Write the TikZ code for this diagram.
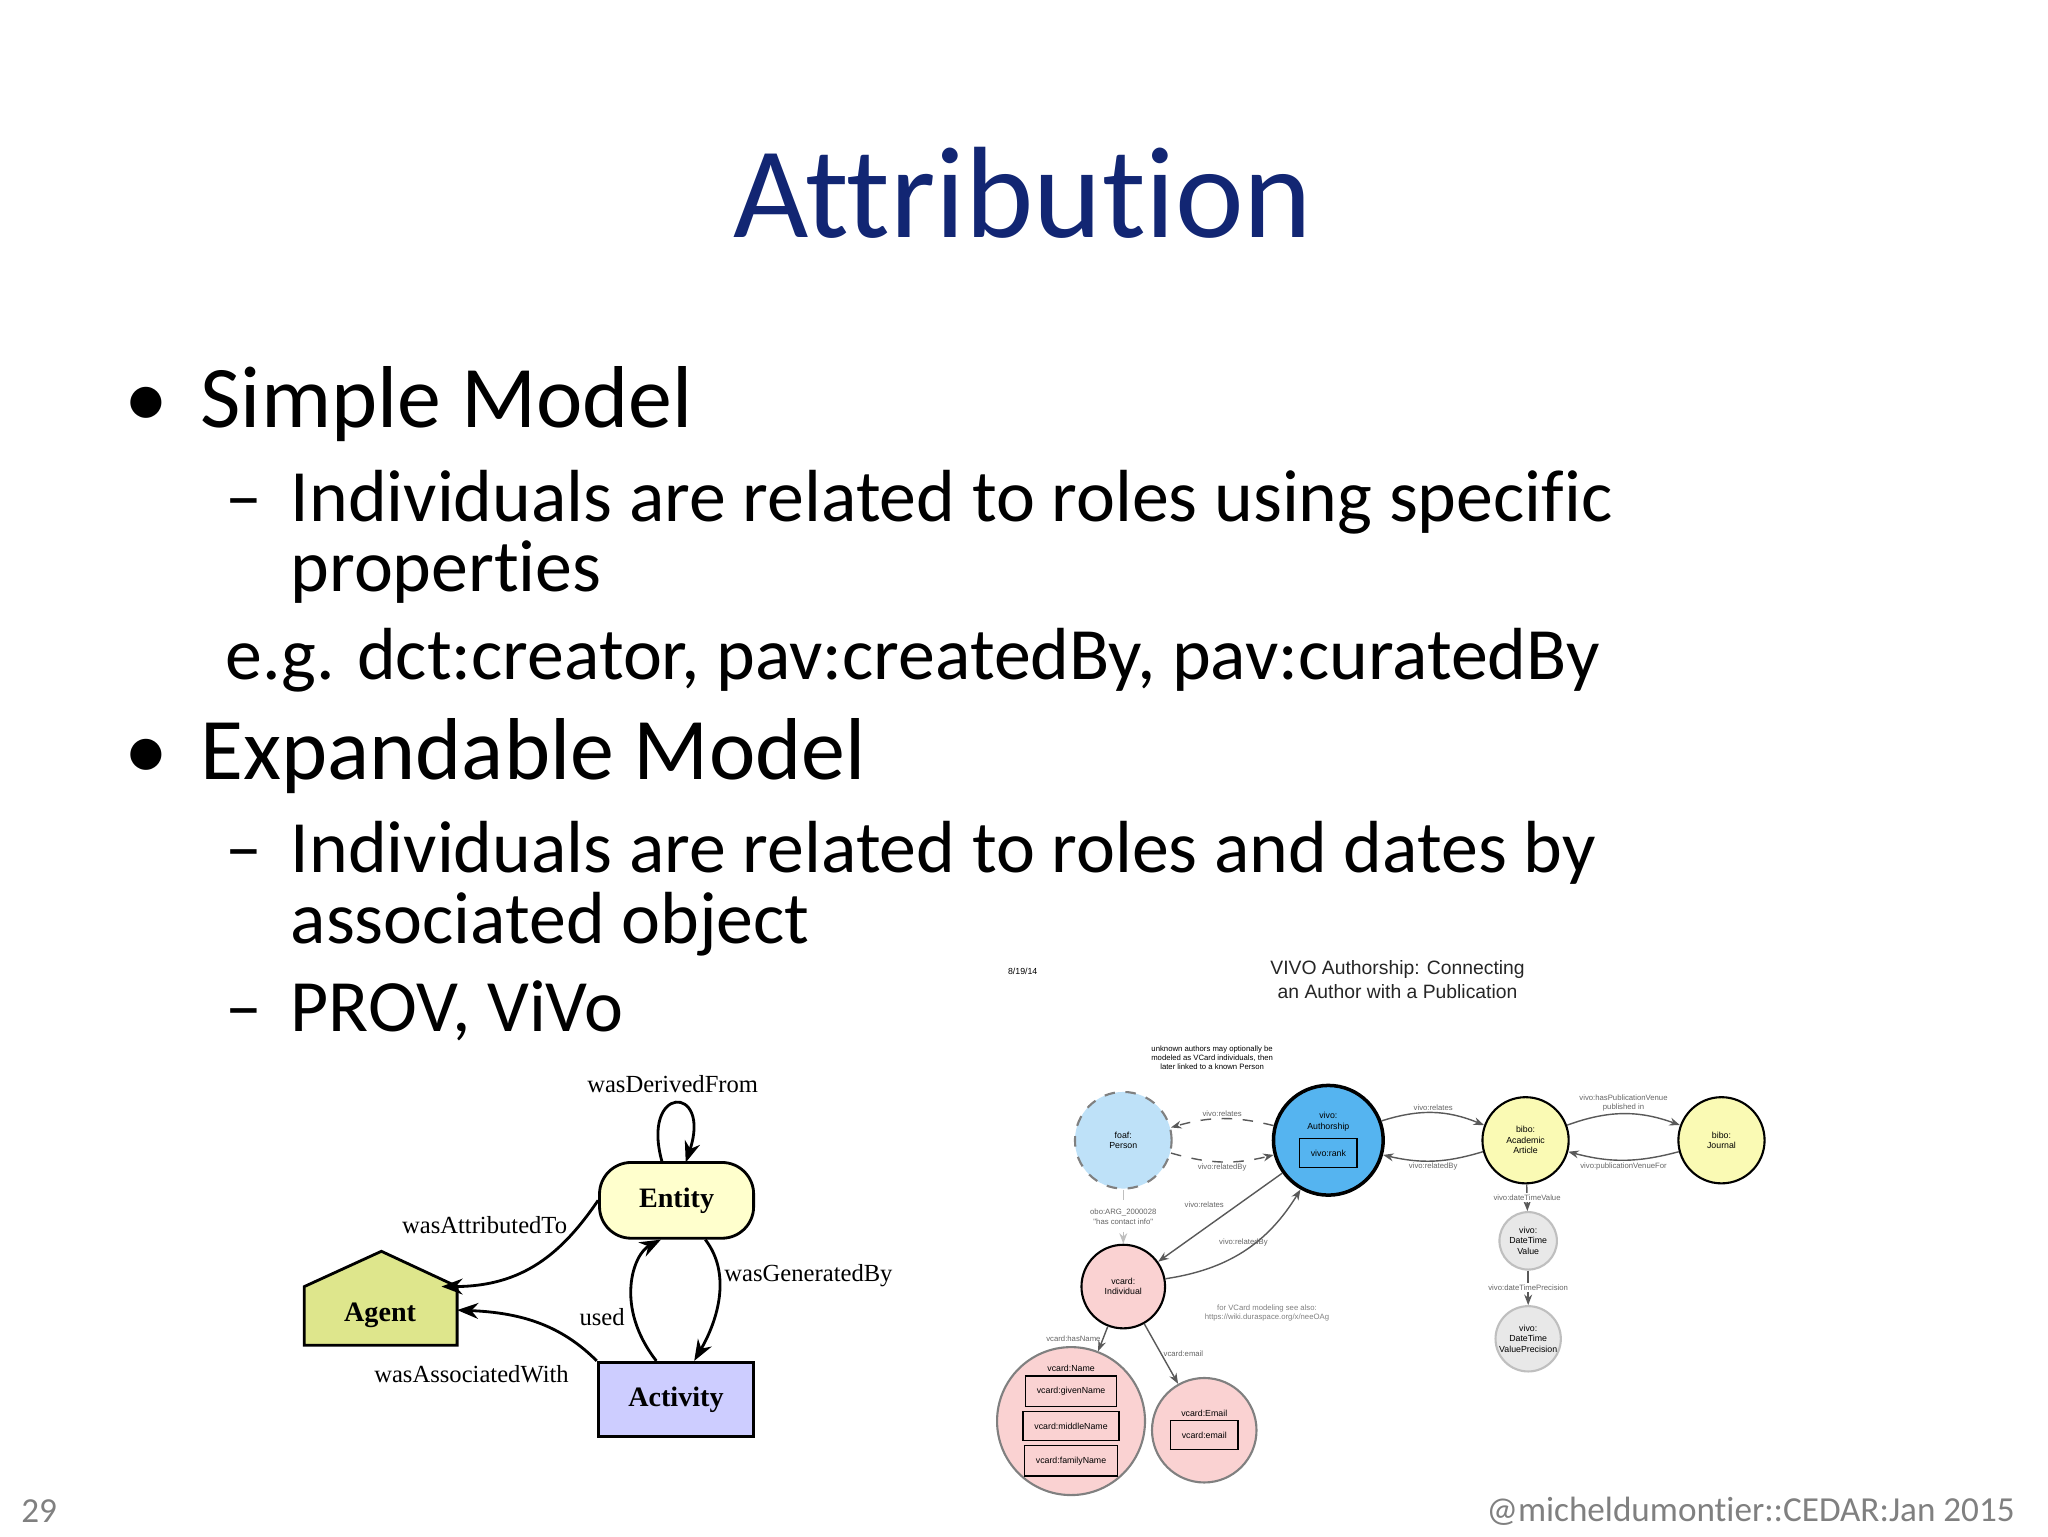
\documentclass[tikz,border=0pt]{standalone}
\usepackage{fontspec}
\setmainfont[Ligatures=NoCommon]{Carlito}
\newfontfamily\serifd{Liberation Serif}
\newfontfamily\sansd{Liberation Sans}
\usetikzlibrary{arrows.meta,shapes.geometric}
\definecolor{navy}{RGB}{18,38,115}
\definecolor{entcol}{RGB}{255,255,205}
\definecolor{agcol}{RGB}{222,230,140}
\definecolor{accol}{RGB}{205,205,255}
\definecolor{pblue}{RGB}{190,225,248}
\definecolor{ablue}{RGB}{85,180,240}
\definecolor{pyel}{RGB}{250,250,180}
\definecolor{ppink}{RGB}{250,210,210}
\definecolor{pgray}{RGB}{232,232,232}
\tikzset{
  bodytxt/.style={anchor=base west,inner sep=0,font=\fontsize{21}{24}\selectfont},
  bigtxt/.style={anchor=base west,inner sep=0,font=\fontsize{25}{28}\selectfont},
  lbl/.style={font=\serifd\fontsize{7}{8}\selectfont,inner sep=1pt},
  prov/.style={draw,line width=0.8pt,font=\serifd\bfseries\fontsize{8}{9}\selectfont},
  parr/.style={-{Stealth[length=6pt]},line width=0.8pt},
  vc/.style={circle,draw,line width=0.6pt,font=\sansd\fontsize{2.5}{3}\selectfont,align=center,inner sep=0},
  va/.style={-{Stealth[length=3pt]},line width=0.4pt,gray!70!black},
  vl/.style={font=\sansd\fontsize{2.2}{2.6}\selectfont,inner sep=0.5pt,text=gray!80!black,align=center}
}
\begin{document}
\begin{tikzpicture}[x=0.1306mm,y=-0.1306mm]
\useasboundingbox[fill=white] (0,0) rectangle (1568,1176);
% title
\node[font=\fontsize{37}{42}\selectfont,text=navy] (title) at (783,148) {Attribution};
% bullets
\node[bigtxt] (b1d) at (95,327) {•};
\node[bigtxt] (b1) at (153,327) {Simple Model};
\node[bodytxt] (d1) at (172,399) {–};
\node[bodytxt] (s1) at (222,399) {Individuals are related to roles using specific};
\node[bodytxt] (s1b) at (222,453) {properties};
\node[bodytxt] (s2) at (172,520) {e.g. dct:creator, pav:createdBy, pav:curatedBy};
\node[bigtxt] (b2d) at (95,597) {•};
\node[bigtxt] (b2) at (153,597) {Expandable Model};
\node[bodytxt] (d2) at (172,668) {–};
\node[bodytxt] (s3) at (222,668) {Individuals are related to roles and dates by};
\node[bodytxt] (s3b) at (222,722) {associated object};
\node[bodytxt] (d3) at (172,790) {–};
\node[bodytxt] (s4) at (222,790) {PROV, ViVo};
% PROV diagram
\node[prov,fill=entcol,rounded corners=9pt,minimum width=118*0.1306mm,minimum height=58*0.1306mm] (ent) at (518,919) {Entity};
\node[prov,fill=accol,minimum width=119*0.1306mm,minimum height=57*0.1306mm] (act) at (517.5,1071.5) {Activity};
\draw[prov,fill=agcol,line join=miter] (233,985) -- (292,958) -- (350,985) -- (350,1030) -- (233,1030) -- cycle;
\node[font=\serifd\bfseries\fontsize{8}{9}\selectfont] (ag) at (291,1007) {Agent};
\coordinate (agr) at (350,1003);
\coordinate (agt) at (338,985);
\coordinate (lpa) at (507,890);
\coordinate (lpb) at (525,890);
\draw[parr] (lpa) .. controls (490,830) and (545,830) .. (lpb);
\node[lbl] (ldf) at (515,830) {wasDerivedFrom};
\draw[parr] (ent.west) .. controls (430,960) and (400,985) .. (agt);
\node[lbl] (lat) at (371,938) {wasAttributedTo};
\draw[parr] (act.north west) .. controls (430,1015) and (400,1005) .. (agr);
\node[lbl] (law) at (361,1052) {wasAssociatedWith};
\draw[parr] ([xshift=-15*0.1306mm]act.north) .. controls (470,1000) and (485,960) .. ([xshift=-12*0.1306mm]ent.south);
\node[lbl] (lu) at (461,1008) {used};
\draw[parr] ([xshift=22*0.1306mm]ent.south) .. controls (560,975) and (550,1010) .. ([xshift=14*0.1306mm]act.north);
\node[lbl] (lg) at (619,977) {wasGeneratedBy};
% VIVO diagram
\node[font=\sansd\fontsize{2.5}{3}\selectfont] (date) at (783,744) {8/19/14};
\node[font=\sansd\fontsize{5.5}{7}\selectfont,align=center,text=gray!30!black] (vt) at (1070,750) {VIVO Authorship: Connecting\\an Author with a Publication};
\node[vl,text=black] (note) at (928,810) {unknown authors may optionally be\\modeled as VCard individuals, then\\later linked to a known Person};
\node[vc,dashed,fill=pblue,draw=gray,minimum size=74*0.1306mm] (per) at (860,873) {foaf:\\Person};
\node[vc,fill=ablue,line width=1pt,minimum size=84*0.1306mm] (auth) at (1017,873) {vivo:\\Authorship\\[1pt]\fbox{vivo:rank}};
\node[vc,fill=pyel,minimum size=66*0.1306mm] (art) at (1168,873) {bibo:\\Academic\\Article};
\node[vc,fill=pyel,minimum size=66*0.1306mm] (jou) at (1318,873) {bibo:\\Journal};
\node[vc,fill=ppink,minimum size=64*0.1306mm] (ind) at (860,985) {vcard:\\Individual};
\node[vc,fill=ppink,draw=gray,minimum size=104*0.1306mm] (nam) at (820,1088) {vcard:Name\\\fbox{vcard:givenName}\\\fbox{vcard:middleName}\\\fbox{vcard:familyName}};
\node[vc,fill=ppink,draw=gray,minimum size=80*0.1306mm] (ema) at (922,1095) {vcard:Email\\\fbox{vcard:email}};
\node[vc,fill=pgray,draw=gray!50,minimum size=44*0.1306mm] (dtv) at (1170,950) {vivo:\\DateTime\\Value};
\node[vc,fill=pgray,draw=gray!50,minimum size=50*0.1306mm] (dtp) at (1170,1025) {vivo:\\DateTime\\ValuePrecision};
\draw[va,dashed] (auth) to[bend right=15] node[vl,above] {vivo:relates} (per);
\draw[va,dashed] (per) to[bend right=15] node[vl,below] {vivo:relatedBy} (auth);
\draw[va] (auth) to[bend left=20] node[vl,above] {vivo:relates} (art);
\draw[va] (art) to[bend left=15] node[vl,below] {vivo:relatedBy} (auth);
\draw[va] (art) to[bend left=20] node[vl,above] {vivo:hasPublicationVenue\\published in} (jou);
\draw[va] (jou) to[bend left=15] node[vl,below] {vivo:publicationVenueFor} (art);
\draw[va,dashed,gray!50] (per) -- node[vl,fill=white] {obo:ARG\_2000028\\"has contact info"} (ind);
\draw[va] (auth) -- (ind);
\node[vl] (lrel) at (922,922) {vivo:relates};
\draw[va] (ind) to[bend right=25] (auth);
\node[vl] (lrby) at (952,951) {vivo:relatedBy};
\draw[va] (art) -- node[vl,fill=white] {vivo:dateTimeValue} (dtv);
\draw[va] (dtv) -- node[vl,fill=white] {vivo:dateTimePrecision} (dtp);
\draw[va] (ind) -- node[vl,left] {vcard:hasName} (nam);
\draw[va] (ind) -- node[vl,right] {vcard:email} (ema);
\node[vl,text=gray] (vnote) at (970,1005) {for VCard modeling see also:\\https://wiki.duraspace.org/x/neeOAg};
% footer
\node[font=\fontsize{10}{12}\selectfont,text=gray] (pg) at (30,1157) {29};
\node[font=\fontsize{10}{12}\selectfont,text=gray,anchor=east] (ft) at (1552,1157) {@micheldumontier::CEDAR:Jan 2015};
\end{tikzpicture}
\end{document}
